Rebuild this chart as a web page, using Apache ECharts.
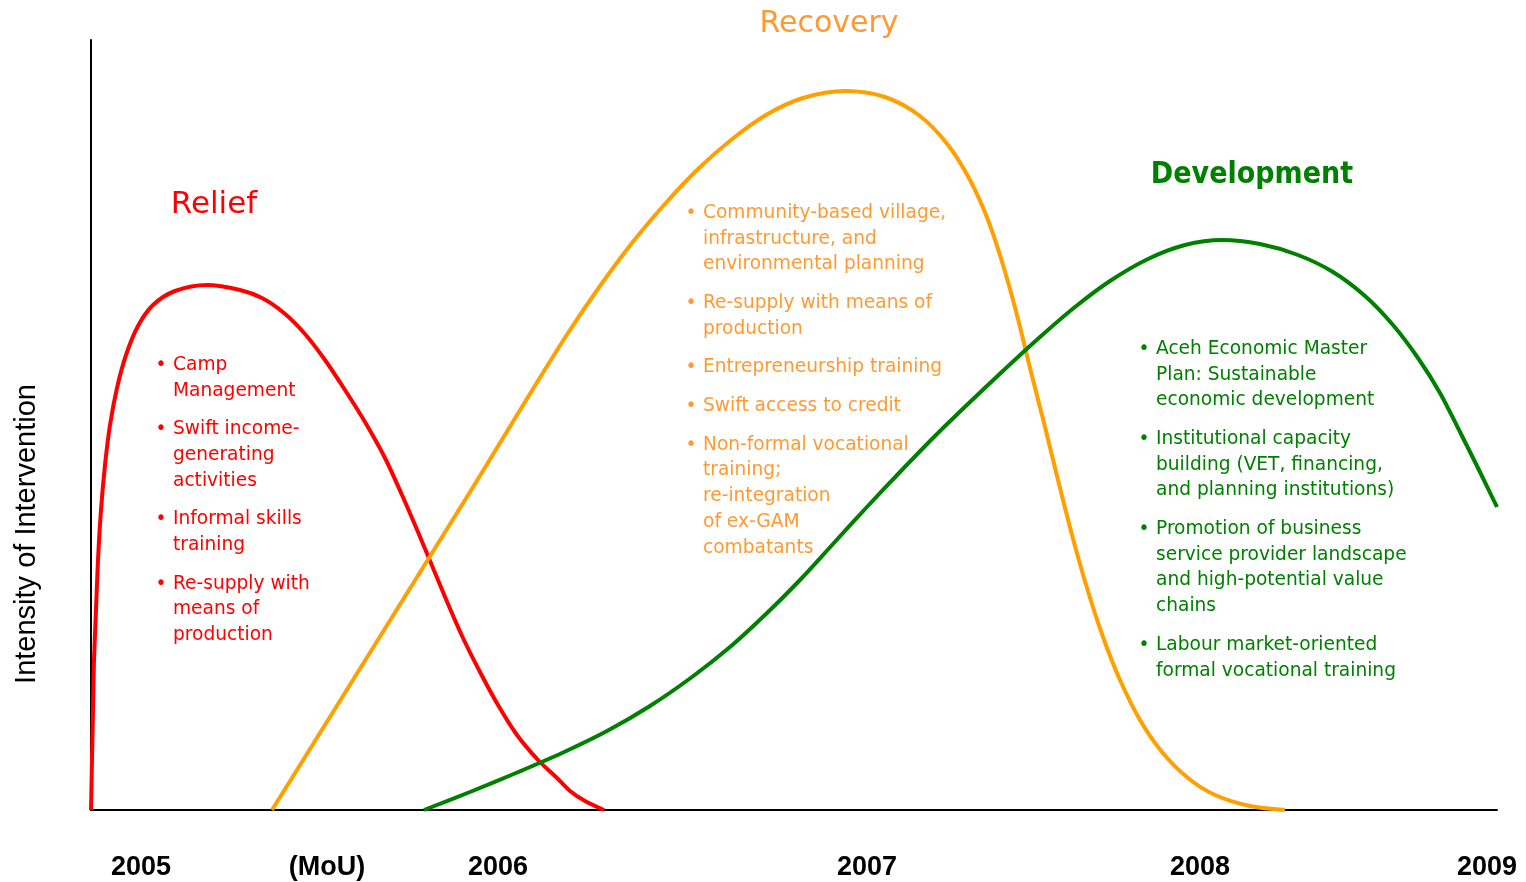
<!DOCTYPE html>
<html>
<head>
<meta charset="utf-8">
<script src="https://cdn.jsdelivr.net/npm/echarts@6/dist/echarts.min.js"></script>
<style>
html,body{margin:0;padding:0;background:#fff;}
#chart{width:1526px;height:882px;}
</style>
</head>
<body>
<div id="chart"></div>
<script>
// ---- Data (timeline units on x, intensity units on y) ----
const reliefCurve = [
  [0,0],[1,50],[2,100],[3,150],[5,200],[7,250],[10,300],[14,345],[19,385],[26,422],
  [35,455],[47,484],[62,505],[84,519],[116,525],[149,520],[171,512],[193,497],
  [214,476],[234,450],[254,420],[274,388],[294,352],[311,315],[327,278],[342,242],
  [357,206],[372,172],[389,138],[407,105],[426,75],[447,50],[465,33],[479,19],[494,9],[513,0]
];
const recoveryCurve = [
  [181,0],[214,53],[247,106],[280,159],[313,212],[346,265],[379,318],[412,372],[445,426],
  [477,477],[509,524],[541,567],[573,605],[606,640],[640,670],[675,695],[712,712],
  [754,719],[794,713],[829,694],[857,665],[879,630],[897,590],[912,545],[926,495],
  [939,442],[953,387],[967,330],[981,275],[996,222],[1012,173],[1029,130],[1049,90],
  [1071,58],[1097,32],[1124,15],[1159,4],[1194,0]
];
const developmentCurve = [
  [333,0],[379,18],[425,37],[471,57],[516,79],[559,104],[601,133],[639,163],[675,196],
  [709,230],[742,266],[775,302],[809,338],[844,374],[879,408],[914,441],[949,473],
  [984,503],[1019,529],[1057,551],[1094,565],[1131,570],[1169,566],[1207,555],
  [1242,538],[1274,514],[1302,485],[1327,452],[1349,417],[1369,378],[1388,340],[1406,303]
];
const tickPositions = [50, 236, 407, 776, 1109, 1396];
const tickLabels = ['2005', '(MoU)', '2006', '2007', '2008', '2009'];

const phaseNames = ['Relief', 'Recovery', 'Development'];
const reliefItems = [
  'Camp\nManagement',
  'Swift income-\ngenerating\nactivities',
  'Informal skills\ntraining',
  'Re-supply with\nmeans of\nproduction'
];
const recoveryItems = [
  'Community-based village,\ninfrastructure, and\nenvironmental planning',
  'Re-supply with means of\nproduction',
  'Entrepreneurship training',
  'Swift access to credit',
  'Non-formal vocational\ntraining;\nre-integration\nof ex-GAM\ncombatants'
];
const developmentItems = [
  'Aceh Economic Master\nPlan: Sustainable\neconomic development',
  'Institutional capacity\nbuilding (VET, financing,\nand planning institutions)',
  'Promotion of business\nservice provider landscape\nand high-potential value\nchains',
  'Labour market-oriented\nformal vocational training'
];
const yAxisTitle = 'Intensity of Intervention';

// ---- Styles ----
const RED = '#FF0000', ORANGE_LINE = '#FF9F00', ORANGE_TEXT = '#FF9A33', GREEN = '#008000';
const BODY_FONT = '"DejaVu Sans", sans-serif';
const LH = 25.7, GAP = 13, FS = 18.6;

function bulletBlock(items, bulletX, textX, firstCenterY, color) {
  const els = [];
  let top = firstCenterY - LH / 2;
  items.forEach(function (txt) {
    els.push({
      type: 'text', x: bulletX, y: top,
      style: { text: '•', fill: color, font: FS + 'px ' + BODY_FONT, lineHeight: LH, textVerticalAlign: 'top', textAlign: 'center' }
    });
    els.push({
      type: 'text', x: textX, y: top,
      style: { text: txt, fill: color, font: FS + 'px ' + BODY_FONT, lineHeight: LH, textVerticalAlign: 'top', textAlign: 'left' }
    });
    top += txt.split('\n').length * LH + GAP;
  });
  return els;
}

function title(text, x, y, color, font) {
  return {
    type: 'text', x: x, y: y,
    style: { text: text, fill: color, font: font, textAlign: 'center', textVerticalAlign: 'middle' }
  };
}

const chart = echarts.init(document.getElementById('chart'), null, { renderer: 'canvas' });

function lineSeries(name, data, color) {
  return {
    name: name, type: 'line', data: data, smooth: 0.3,
    symbol: 'none', lineStyle: { color: color, width: 4 }, silent: true, z: 3
  };
}

const option = {
  animation: false,
  backgroundColor: '#ffffff',
  grid: { left: 91, right: 29, top: 40, bottom: 72, containLabel: false },
  xAxis: {
    type: 'value', min: 0, max: 1406,
    axisLine: { show: true, lineStyle: { color: '#000', width: 2 } },
    axisTick: { show: false },
    splitLine: { show: false },
    axisLabel: {
      customValues: tickPositions,
      formatter: function (v) { const i = tickPositions.indexOf(v); return i >= 0 ? tickLabels[i] : ''; },
      margin: 44, color: '#000', fontSize: 27, fontWeight: 'bold', fontFamily: '"Liberation Sans", Arial, sans-serif'
    }
  },
  yAxis: {
    type: 'value', min: 0, max: 770,
    axisLine: { show: true, lineStyle: { color: '#000', width: 2 } },
    axisTick: { show: false },
    axisLabel: { show: false },
    splitLine: { show: false }
  },
  series: [
    lineSeries(phaseNames[0], reliefCurve, RED),
    lineSeries(phaseNames[1], recoveryCurve, ORANGE_LINE),
    lineSeries(phaseNames[2], developmentCurve, GREEN)
  ],
  graphic: [].concat(
    [
      {
        type: 'text', x: 27, y: 534, rotation: Math.PI / 2,
        style: { text: yAxisTitle, fill: '#000', font: '29px "Liberation Sans", Arial, sans-serif', textAlign: 'center', textVerticalAlign: 'middle' }
      },
      title(phaseNames[0], 214, 205, RED, '31px ' + BODY_FONT),
      title(phaseNames[1], 829, 24, ORANGE_TEXT, '30px ' + BODY_FONT),
      title(phaseNames[2], 1252, 175, GREEN, 'bold 30px "DejaVu Sans Condensed", "DejaVu Sans", sans-serif')
    ],
    bulletBlock(reliefItems, 161, 173, 365, RED),
    bulletBlock(recoveryItems, 691, 703, 213, ORANGE_TEXT),
    bulletBlock(developmentItems, 1144, 1156, 349, GREEN)
  )
};
chart.setOption(option);
</script>
</body>
</html>
